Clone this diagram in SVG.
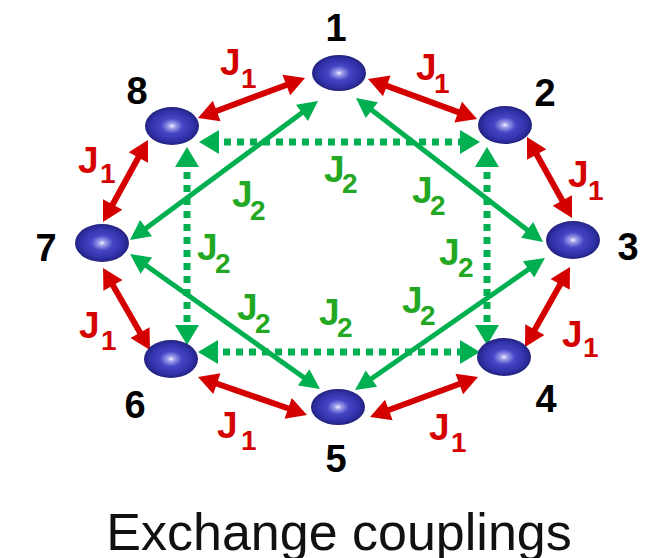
<svg xmlns="http://www.w3.org/2000/svg" width="661" height="558" viewBox="0 0 661 558">
<style>
.red{stroke:#d40000;stroke-width:6;fill:none;marker-start:url(#ar);marker-end:url(#ar)}
.gs{stroke:#00b050;stroke-width:5;fill:none;marker-start:url(#ag);marker-end:url(#ag)}
.gd{stroke:#00b050;stroke-width:7;fill:none;stroke-dasharray:7 6;marker-start:url(#agd);marker-end:url(#agd)}
.node{fill:url(#ball)}
.num{font-family:"Liberation Sans",Arial,sans-serif;font-weight:bold;font-size:38px;fill:#000;text-anchor:middle}
.j1{font-family:"Liberation Sans",Arial,sans-serif;font-weight:bold;fill:#d40000}
.j2{font-family:"Liberation Sans",Arial,sans-serif;font-weight:bold;fill:#22a822}
.big{font-size:37px}
.sub{font-size:28px}
.title{font-family:"Liberation Sans",Arial,sans-serif;font-size:52px;fill:#111;text-anchor:middle}
</style>
<defs>
<radialGradient id="ball" cx="50%" cy="50%" r="50%">
<stop offset="0" stop-color="#f4f4ff"/>
<stop offset="0.13" stop-color="#a0a0ea"/>
<stop offset="0.4" stop-color="#4646c6"/>
<stop offset="0.8" stop-color="#3030a8"/>
<stop offset="1" stop-color="#22227e"/>
</radialGradient>
<marker id="ar" markerUnits="userSpaceOnUse" markerWidth="20" markerHeight="22" refX="8" refY="11" orient="auto-start-reverse" overflow="visible">
<path d="M0,0 L20,11 L0,22 z" fill="#d40000"/>
</marker>
<marker id="ag" markerUnits="userSpaceOnUse" markerWidth="20" markerHeight="20" refX="8" refY="10" orient="auto-start-reverse" overflow="visible">
<path d="M0,0 L20,10 L0,20 z" fill="#00b050"/>
</marker>
<marker id="agd" markerUnits="userSpaceOnUse" markerWidth="20" markerHeight="24" refX="8" refY="12" orient="auto-start-reverse" overflow="visible">
<path d="M0,0 L20,12 L0,24 z" fill="#00b050"/>
</marker>
</defs>

<g id="connectors">
<line class="red" x1="293.8" y1="82.2" x2="209.2" y2="113.8"/>
<line class="red" x1="379.3" y1="83.1" x2="465.7" y2="114.9"/>
<line class="red" x1="532.8" y1="147.5" x2="566.2" y2="207.5"/>
<line class="red" x1="142.2" y1="150.5" x2="108.8" y2="211.5"/>
<line class="red" x1="109.0" y1="278.4" x2="144.0" y2="339.6"/>
<line class="red" x1="209.3" y1="381.0" x2="295.7" y2="411.0"/>
<line class="red" x1="381.3" y1="412.8" x2="466.8" y2="381.2"/>
<line class="red" x1="530.9" y1="336.5" x2="564.1" y2="277.5"/>
<line class="gs" x1="308.4" y1="108.1" x2="139.6" y2="232.9"/>
<line class="gs" x1="365.5" y1="105.3" x2="533.5" y2="234.7"/>
<line class="gs" x1="139.8" y1="261.0" x2="310.2" y2="382.0"/>
<line class="gs" x1="535.1" y1="264.8" x2="364.9" y2="383.2"/>
<line class="gd" x1="211" y1="142" x2="468" y2="142"/>
<line class="gd" x1="210" y1="352" x2="468" y2="352"/>
<line class="gd" x1="187" y1="159" x2="187" y2="333"/>
<line class="gd" x1="487" y1="159" x2="487" y2="333"/>
</g>

<g id="node1"><ellipse class="node" cx="339" cy="73" rx="27" ry="18"/><text class="num" x="336" y="41">1</text></g>
<g id="node2"><ellipse class="node" cx="505" cy="125" rx="27" ry="19"/><text class="num" x="545" y="106">2</text></g>
<g id="node3"><ellipse class="node" cx="573" cy="240" rx="27" ry="19"/><text class="num" x="628" y="260">3</text></g>
<g id="node4"><ellipse class="node" cx="504" cy="357" rx="27" ry="19"/><text class="num" x="546" y="412">4</text></g>
<g id="node5"><ellipse class="node" cx="338" cy="407" rx="27" ry="18"/><text class="num" x="336" y="472">5</text></g>
<g id="node6"><ellipse class="node" cx="171" cy="359" rx="27" ry="19"/><text class="num" x="135" y="418">6</text></g>
<g id="node7"><ellipse class="node" cx="102" cy="243" rx="27" ry="19"/><text class="num" x="46" y="261">7</text></g>
<g id="node8"><ellipse class="node" cx="172" cy="126" rx="27" ry="19"/><text class="num" x="137" y="104">8</text></g>

<g id="labels-J1">
<text class="j1"><tspan class="big" x="220" y="75">J</tspan><tspan class="sub" x="241" y="88">1</tspan></text>
<text class="j1"><tspan class="big" x="416" y="80">J</tspan><tspan class="sub" x="434" y="93">1</tspan></text>
<text class="j1"><tspan class="big" x="568" y="187">J</tspan><tspan class="sub" x="588" y="200">1</tspan></text>
<text class="j1"><tspan class="big" x="78" y="173">J</tspan><tspan class="sub" x="100" y="183">1</tspan></text>
<text class="j1"><tspan class="big" x="79" y="338">J</tspan><tspan class="sub" x="101" y="350">1</tspan></text>
<text class="j1"><tspan class="big" x="217" y="438">J</tspan><tspan class="sub" x="241" y="450">1</tspan></text>
<text class="j1"><tspan class="big" x="429" y="440">J</tspan><tspan class="sub" x="451" y="452">1</tspan></text>
<text class="j1"><tspan class="big" x="562" y="347">J</tspan><tspan class="sub" x="583" y="357">1</tspan></text>
</g>

<g id="labels-J2">
<text class="j2"><tspan class="big" x="324" y="182">J</tspan><tspan class="sub" x="342" y="193">2</tspan></text>
<text class="j2"><tspan class="big" x="232" y="207">J</tspan><tspan class="sub" x="250" y="220">2</tspan></text>
<text class="j2"><tspan class="big" x="412" y="203">J</tspan><tspan class="sub" x="430" y="215">2</tspan></text>
<text class="j2"><tspan class="big" x="197" y="260">J</tspan><tspan class="sub" x="215" y="273">2</tspan></text>
<text class="j2"><tspan class="big" x="439" y="265">J</tspan><tspan class="sub" x="458" y="277">2</tspan></text>
<text class="j2"><tspan class="big" x="237" y="320">J</tspan><tspan class="sub" x="255" y="333">2</tspan></text>
<text class="j2"><tspan class="big" x="319" y="325">J</tspan><tspan class="sub" x="337" y="337">2</tspan></text>
<text class="j2"><tspan class="big" x="402" y="313">J</tspan><tspan class="sub" x="420" y="325">2</tspan></text>
</g>

<text class="title" x="339" y="550">Exchange couplings</text>
</svg>
